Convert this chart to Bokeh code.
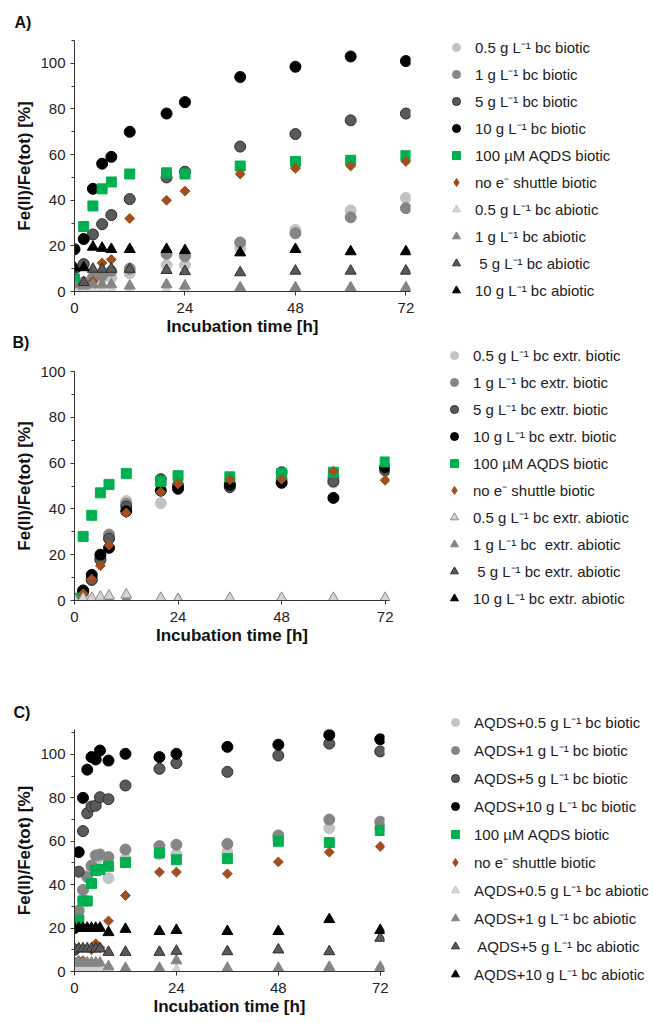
from bokeh.plotting import figure
from bokeh.models import Range1d, FixedTicker, Legend, LegendItem
from bokeh.layouts import column
from bokeh.embed import file_html
from bokeh.resources import INLINE
import math

FONT = "Liberation Sans"

# ---------------- data ----------------
t_ab = [0, 2, 4, 6, 8, 12, 20, 24, 36, 48, 60, 72]
t_c = [0, 1, 2, 3, 4, 5, 6, 8, 12, 20, 24, 36, 48, 60, 72]

labels_a = ["0.5 g L⁻¹ bc biotic", "1 g L⁻¹ bc biotic", "5 g L⁻¹ bc biotic",
            "10 g L⁻¹ bc biotic", "100 µM AQDS biotic", "no e⁻ shuttle biotic",
            "0.5 g L⁻¹ bc abiotic", "1 g L⁻¹ bc abiotic", " 5 g L⁻¹ bc abiotic",
            "10 g L⁻¹ bc abiotic"]
labels_b = ["0.5 g L⁻¹ bc extr. biotic", "1 g L⁻¹ bc extr. biotic", "5 g L⁻¹ bc extr. biotic",
            "10 g L⁻¹ bc extr. biotic", "100 µM AQDS biotic", "no e⁻ shuttle biotic",
            "0.5 g L⁻¹ bc extr. abiotic", "1 g L⁻¹ bc  extr. abiotic", " 5 g L⁻¹ bc extr. abiotic",
            "10 g L⁻¹ bc extr. abiotic"]
labels_c = ["AQDS+0.5 g L⁻¹ bc biotic", "AQDS+1 g L⁻¹ bc biotic", "AQDS+5 g L⁻¹ bc biotic",
            "AQDS+10 g L⁻¹ bc biotic", "100 µM AQDS biotic", "no e⁻ shuttle biotic",
            "AQDS+0.5 g L⁻¹ bc abiotic", "AQDS+1 g L⁻¹ bc abiotic", " AQDS+5 g L⁻¹ bc abiotic",
            "AQDS+10 g L⁻¹ bc abiotic"]

# Panel A
a_bc05 = [1, 2, 4, 6, 6, 8, 11.5, 11.5, 19, 27, 35.5, 41]
a_bc1 = [3, 4, 6, 7, 9, 10, 16.5, 15.5, 21.5, 25.5, 32.5, 36.5]
a_bc5 = [10, 12, 25, 29.5, 33.5, 40.5, 50, 52.5, 63.5, 69, 75, 78]
a_bc10 = [18.5, 23, 45, 56, 59, 70, 78, 83, 94, 98.5, 103, 101]
a_aqds = [5.5, 28.5, 37.5, 45, 48, 51.5, 52, 51.5, 55, 57, 57.5, 59.5]
a_none = [0, 2, 4.5, 12.5, 14, 32, 40, 44, 51.5, 54, 55, 57]
a_ab05 = [1, 0.5, 0.5, 0.5, 0.5, 0.5, 0.5, 0.5, 0.5, 0.5, 0.5, 0.5]
a_ab1 = [3, 2.5, 3, 3, 3, 2.5, 3, 2.5, 1.7, 1.7, 1.7, 1.7]
a_ab5 = [10, 4, 9.8, 9.8, 9.8, 9.8, 9.3, 8.8, 8.3, 9, 9, 9]
a_ab10 = [10.5, 10.5, 19.5, 19, 18.5, 18.5, 18.5, 18, 17, 18.5, 17.5, 17.5]

# Panel B
b_bc05 = [0.5, 3, 9, 18, 27.5, 43.5, 42.5, 50, 51, 52, 51.5, 56.5]
b_bc1 = [0.5, 3.5, 9.5, 18.5, 28.8, 42.3, 51, 50.5, 50.5, 53, 53.5, 57.5]
b_bc5 = [0.5, 4, 9, 17.8, 27, 41, 53, 50, 49.5, 56, 52, 57]
b_bc10 = [0.5, 4.4, 11.2, 20, 23, 39, 48, 48.8, 50.5, 51.4, 44.8, 58.2]
b_aqds = [1, 28, 37.2, 47, 50.7, 55.5, 52, 54.5, 54, 55.5, 56, 60.5]
b_none = [0.5, 3, 9.3, 15.2, 24.2, 38.2, 47.3, 51, 52.8, 53, 56.5, 52.5]
b_ab05 = [0.5, 1, 1, 1.5, 2, 2.5, 1, 0.5, 1, 1, 1, 1]
b_ab1 = [0.3, 0.5, 0.5, 0.5, 0.5, 0.5, 0.5, 0.3, 0.5, 0.5, 0.5, 0.5]
b_ab5 = [0.3, 0.3, 0.3, 0.3, 0.3, 0.3, 0.3, 0.3, 0.3, 0.3, 0.3, 0.3]
b_ab10 = [0.2, 0.2, 0.2, 0.2, 0.2, 0.2, 0.2, 0.2, 0.2, 0.2, 0.2, 0.2]

# Panel C
c_bc05 = [1, 25, 33, 44, 47, 50, 53, 43, 52, 54, 54, 55, 61, 66, 66]
c_bc1 = [2, 28, 37.6, 43.5, 48.8, 53.5, 53.9, 52.7, 56.2, 57.8, 58.4, 58.8, 62.7, 70, 69]
c_bc5 = [10, 46, 64.7, 72.9, 76, 76.4, 80.3, 79.4, 85.7, 93.4, 96, 92, 99.5, 105, 101.4]
c_bc10 = [20, 55, 80, 93, 98.8, 97.7, 101.8, 97.2, 100.3, 98.8, 100.3, 103.5, 104.5, 109, 107]
c_aqds = [0.5, 23.6, 32.5, 32.5, 40.5, 46.5, 47, 48.5, 50.2, 54.6, 51.5, 52, 60, 59.4, 65]
c_none = [1, 5, 5, 4, 10, 12.8, 11, 23.3, 35, 45.8, 45.8, 45, 50.5, 55, 57.6]
c_ab05 = [1, 1, 1, 1, 1, 1, 1, 1, 0.5, 0.5, 0.5, 0.5, 0.5, 0.5, 0.5]
c_ab1 = [4, 4, 4, 4, 4, 4, 4, 2.3, 1.5, 1.5, 5, 1.5, 1.5, 2, 2]
c_ab5 = [10.5, 10.5, 10.5, 10.5, 10.5, 10.5, 10.5, 8.9, 8.9, 8.9, 9.4, 9.2, 10, 9.2, 15.4]
c_ab10 = [20, 20, 20, 20, 20, 20, 20, 18, 19.5, 18.5, 19, 18.5, 18.5, 24, 19]

# ---------------- styles ----------------
STYLES = [
    dict(marker="circle", size=11, fill_color="#c3c3c3", line_color="#c3c3c3"),
    dict(marker="circle", size=11, fill_color="#858585", line_color="#858585"),
    dict(marker="circle", size=11, fill_color="#5a5a5a", line_color="#2e2e2e"),
    dict(marker="circle", size=11, fill_color="#000000", line_color="#000000"),
    dict(marker="square", size=10, fill_color="#00b050", line_color="#00b050"),
    dict(marker="square", size=7, fill_color="#a0501e", line_color="#a0501e", angle=math.pi / 4),
    dict(marker="triangle", size=11, fill_color="#d4d4d4", line_color="#c4c4c4"),
    dict(marker="triangle", size=11, fill_color="#858585", line_color="#858585"),
    dict(marker="triangle", size=11, fill_color="#5a5a5a", line_color="#2e2e2e"),
    dict(marker="triangle", size=11, fill_color="#000000", line_color="#000000"),
]

TOTAL_W = 653
BOTTOM = 46  # space below the frame for the x axis
GLYPH_LEFT = 444  # page x of the legend glyph box


def panel(letter, t, series, labels, ymax, ylim, left, fw, fh, btop,
          title_standoff, leg_top, leg_spacing, draw_order, row_margin=0,
          tri_light_line=None):
    p = figure(frame_width=fw, frame_height=fh,
               x_range=Range1d(0, 73), y_range=Range1d(0, ylim),
               output_backend="svg", toolbar_location=None,
               min_border_left=left, min_border_right=TOTAL_W - left - fw,
               min_border_top=btop, min_border_bottom=BOTTOM)
    p.extra_y_ranges = {"hid": Range1d(1000, 1001)}
    p.outline_line_color = None
    p.xgrid.visible = False
    p.ygrid.visible = False
    p.background_fill_color = None
    p.border_fill_color = None

    p.title.text = letter
    p.title.text_font = FONT
    p.title.text_font_size = "16px"
    p.title.text_font_style = "bold"
    p.title.text_color = "#111111"
    p.title.align = "left"
    p.title.offset = -(left - 12)
    p.title.standoff = title_standoff

    def style(i, legend=False):
        st = dict(STYLES[i])
        if tri_light_line is not None and i == 6:
            st["line_color"] = tri_light_line
        if legend and i == 5:
            st.pop("angle")
            st["marker"] = "diamond"
        return st

    for i in draw_order:
        p.scatter(t, series[i], **style(i))

    items = []
    for i in range(len(series)):
        r = p.scatter(t[:1], series[i][:1], y_range_name="hid", **style(i, legend=True))
        items.append(LegendItem(label=labels[i], renderers=[r]))
    n = len(series)
    leg_h = n * 20 + (n - 1) * leg_spacing
    frame_bottom_rel = btop + fh
    leg = Legend(items=items,
                 location=(GLYPH_LEFT - (left + fw), frame_bottom_rel - (leg_top + leg_h)),
                 border_line_color=None, background_fill_alpha=0,
                 padding=0, margin=0, spacing=leg_spacing, glyph_height=20, glyph_width=20,
                 label_standoff=9, label_height=20,
                 label_text_font=FONT, label_text_font_size="15px",
                 label_text_color="#222222")
    p.add_layout(leg, "right")

    for ax in (p.xaxis[0], p.yaxis[0]):
        ax.axis_line_color = "#333333"
        ax.major_tick_line_color = "#333333"
        ax.minor_tick_line_color = "#333333"
        ax.major_tick_in = 0
        ax.major_tick_out = 4
        ax.minor_tick_in = 0
        ax.minor_tick_out = 3
        ax.major_label_text_font = FONT
        ax.major_label_text_font_size = "15px"
        ax.major_label_text_color = "#222222"
        ax.axis_label_text_font = FONT
        ax.axis_label_text_font_style = "bold"
        ax.axis_label_text_font_size = "17px"
        ax.axis_label_text_color = "#111111"
    p.xaxis.ticker = FixedTicker(ticks=[0, 24, 48, 72])
    p.xaxis.minor_tick_line_color = None
    p.xaxis.axis_label = "Incubation time [h]"
    p.xaxis.major_label_standoff = 7
    p.xaxis.axis_label_standoff = 1
    p.yaxis.ticker = FixedTicker(ticks=[0, 20, 40, 60, 80, 100],
                                 minor_ticks=[10, 30, 50, 70, 90] + ([110] if ymax > 100 else []))
    p.yaxis.axis_label = "Fe(II)/Fe(tot) [%]"
    p.yaxis.major_label_standoff = 5
    p.yaxis.axis_label_standoff = 3
    if row_margin:
        p.margin = (row_margin, 0, 0, 0)
    return p


ord_normal = list(range(10))
ord_b = [0, 1, 2, 3, 4, 5, 9, 8, 7, 6]

pa = panel("A)", t_ab, [a_bc05, a_bc1, a_bc5, a_bc10, a_aqds, a_none, a_ab05, a_ab1, a_ab5, a_ab10],
           labels_a, 110, 110, 72, 336, 251, 40, 20, 37, 7, ord_normal)
pb = panel("B)", t_ab, [b_bc05, b_bc1, b_bc5, b_bc10, b_aqds, b_none, b_ab05, b_ab1, b_ab5, b_ab10],
           labels_b, 100, 100, 74, 315, 229, 59, 41, 346 - 313, 7, ord_b, row_margin=-27,
           tri_light_line="#8a8a8a")
pc = panel("C)", t_c, [c_bc05, c_bc1, c_bc5, c_bc10, c_aqds, c_none, c_ab05, c_ab1, c_ab5, c_ab10],
           labels_c, 110, 111.5, 73, 310, 242, 82, 17, 65, 8, ord_normal)

layout = column(pa, pb, pc, spacing=0)
open("out.html", "w").write(file_html(layout, INLINE))
